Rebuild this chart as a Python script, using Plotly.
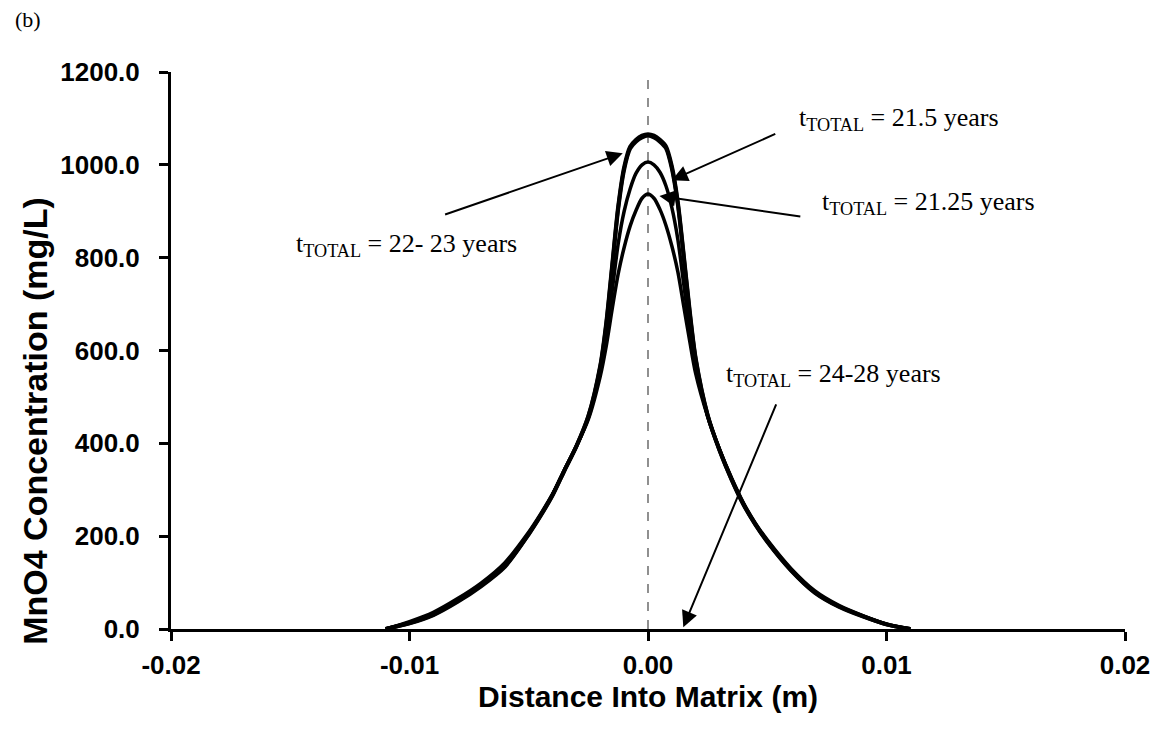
import plotly.graph_objects as go

# Distance into matrix (m)
x_m = [-0.011, -0.010, -0.009, -0.008, -0.007, -0.006, -0.005, -0.0045, -0.004, -0.0035,
       -0.003, -0.0025, -0.002, -0.00175, -0.0015, -0.00125, -0.001, -0.00075, -0.0005, -0.00025,
       0.0,
       0.00025, 0.0005, 0.00075, 0.001, 0.00125, 0.0015, 0.00175, 0.002, 0.0025, 0.003,
       0.0035, 0.004, 0.0045, 0.005, 0.006, 0.007, 0.008, 0.009, 0.010, 0.011]

# MnO4 concentration (mg/L)
c_21_25 = [0, 16, 36, 65, 99, 143, 209, 248, 291, 343,
           394, 452, 545, 610, 690, 765, 822, 868, 902, 928,
           937,
           928, 904, 870, 825, 770, 695, 620, 550, 458, 387,
           326, 272, 228, 192, 130, 82, 51, 29, 11, 0]
c_21_5 = [0, 14, 33, 62, 96, 140, 207, 246, 290, 343,
          394, 455, 558, 635, 730, 830, 900, 948, 982, 1000,
          1006,
          1000, 984, 955, 908, 840, 742, 645, 568, 460, 386,
          324, 270, 226, 190, 128, 80, 49, 28, 10, 0]
c_22_23 = [0, 12, 30, 58, 92, 134, 204, 244, 288, 342,
           394, 458, 565, 655, 780, 905, 990, 1035, 1050, 1059,
           1063,
           1059, 1050, 1036, 992, 915, 800, 680, 580, 460, 385,
           322, 268, 225, 188, 126, 78, 48, 27, 10, 0]
c_24_28 = [0, 13, 31, 60, 94, 136, 205, 245, 289, 342,
           394, 459, 568, 660, 785, 910, 995, 1039, 1054, 1063,
           1066,
           1063, 1054, 1040, 997, 920, 805, 685, 583, 461, 385,
           323, 269, 226, 189, 127, 79, 49, 28, 10, 0]

series = [("t<sub>TOTAL</sub> = 21.25 years", c_21_25, 3.5),
          ("t<sub>TOTAL</sub> = 21.5 years", c_21_5, 3.5),
          ("t<sub>TOTAL</sub> = 22- 23 years", c_22_23, 4.0),
          ("t<sub>TOTAL</sub> = 24-28 years", c_24_28, 4.0)]

x_ticks = [-0.02, -0.01, 0.0, 0.01, 0.02]
x_tick_text = ["-0.02", "-0.01", "0.00", "0.01", "0.02"]
y_ticks = [0, 200, 400, 600, 800, 1000, 1200]
y_tick_text = ["0.0", "200.0", "400.0", "600.0", "800.0", "1000.0", "1200.0"]

# labels: (text, text x, text y, arrow tail x, tail y, arrow head x, head y)
labels = [
    ("t<sub>TOTAL</sub> = 21.5 years", 0.00623, 1099, 0.00540, 1068, 0.00100, 967),
    ("t<sub>TOTAL</sub> = 21.25 years", 0.00720, 918, 0.00645, 888, 0.00048, 933),
    ("t<sub>TOTAL</sub> = 22- 23 years", -0.01483, 827, -0.00857, 892, -0.00106, 1025),
    ("t<sub>TOTAL</sub> = 24-28 years", 0.00319, 547, 0.00540, 487, 0.00148, 4),
]

fig = go.Figure()

fig.add_shape(type="line", x0=0, x1=0, y0=0, y1=1200, xref="x", yref="y",
              line=dict(color="#555555", width=1.3, dash="dash"), layer="below")

for name, ys, w in series:
    fig.add_trace(go.Scatter(x=x_m, y=ys, mode="lines", name=name,
                             line=dict(color="black", width=w, shape="spline", smoothing=0.8),
                             showlegend=False, hoverinfo="skip"))

serif = "Liberation Serif, Times New Roman, serif"
sans = "Liberation Sans, Arial, sans-serif"

for txt, tx, ty, ax, ay, hx, hy in labels:
    fig.add_annotation(x=hx, y=hy, ax=ax, ay=ay, xref="x", yref="y", axref="x", ayref="y",
                       text="", showarrow=True, arrowhead=2, arrowsize=1.6, arrowwidth=2,
                       arrowcolor="black")
    fig.add_annotation(x=tx, y=ty, xref="x", yref="y", text=txt, showarrow=False,
                       xanchor="left", yanchor="middle",
                       font=dict(family=serif, size=26, color="black"))

fig.add_annotation(x=-0.166, y=1.094, xref="paper", yref="paper", text="(b)", showarrow=False,
                   xanchor="left", yanchor="middle", font=dict(family=serif, size=22, color="black"))

# axis titles
fig.add_annotation(x=0.5, y=-0.122, xref="paper", yref="paper", text="Distance Into Matrix (m)",
                   showarrow=False, xanchor="center", yanchor="middle",
                   font=dict(family=sans, size=30, weight="bold", color="black"))
fig.add_annotation(x=-0.142, y=0.373, xref="paper", yref="paper", text="MnO4 Concentration (mg/L)",
                   showarrow=False, xanchor="center", yanchor="middle", textangle=-90,
                   font=dict(family=sans, size=34, weight="bold", color="black"))

fig.update_layout(
    width=1154, height=728,
    margin=dict(l=163, r=32, t=64, b=107),
    paper_bgcolor="white", plot_bgcolor="white",
    font=dict(family=sans, color="black"),
)
fig.update_xaxes(range=[-0.02, 0.02], tickvals=x_ticks, ticktext=x_tick_text,
                 showgrid=False, zeroline=False, showline=True, linewidth=3, linecolor="black",
                 ticks="outside", ticklen=9, tickwidth=3, tickcolor="black", ticklabelstandoff=2,
                 tickfont=dict(family=sans, size=26, weight="bold", color="black"))
fig.update_yaxes(range=[0, 1200], tickvals=y_ticks, ticktext=y_tick_text,
                 showgrid=False, zeroline=False, showline=True, linewidth=3, linecolor="black",
                 ticks="outside", ticklen=9, tickwidth=3, tickcolor="black", ticklabelstandoff=14,
                 tickfont=dict(family=sans, size=26, weight="bold", color="black"))

fig.write_html("out.html")
